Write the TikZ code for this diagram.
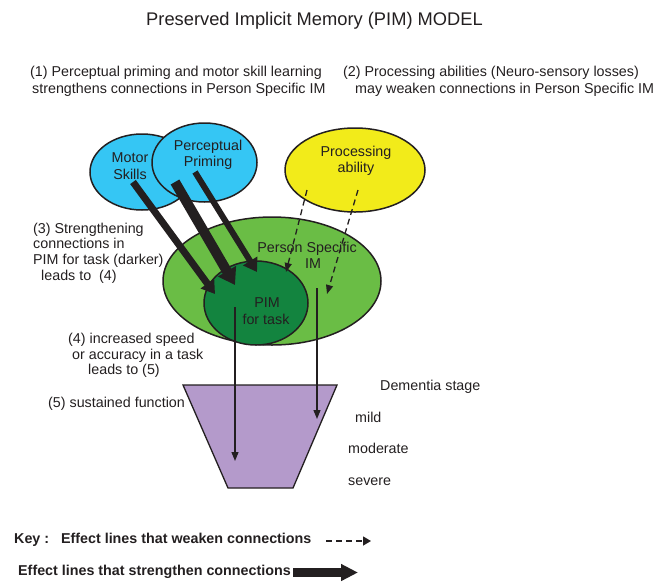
\documentclass[tikz,border=0pt]{standalone}
\usepackage{fontspec}
\setmainfont{Liberation Sans}
\usetikzlibrary{shapes.geometric,arrows.meta}
\definecolor{txt}{HTML}{231F20}
\definecolor{cyanfill}{HTML}{35C6F4}
\definecolor{yelfill}{HTML}{F2EB1A}
\definecolor{lgreen}{HTML}{6ABD45}
\definecolor{dgreen}{HTML}{13843F}
\definecolor{purp}{HTML}{B49ACB}
\tikzset{
  x=1pt,y=-1pt,
  blob/.style={ellipse,draw=txt,line width=1.5pt,inner sep=0pt},
  lbl/.style={text=txt,font=\fontsize{14.3}{16.5}\selectfont,inner sep=0pt},
  lw/.style={lbl,anchor=mid west,yshift=-2pt},
  keylbl/.style={text=txt,font=\fontsize{14.3}{16.5}\selectfont\bfseries,inner sep=0pt,anchor=mid west,yshift=-1.5pt},
  lblc/.style={lbl,align=center},
  thin arrow/.style={draw=txt,line width=1.3pt,-{Triangle[length=9pt,width=7pt]}},
  weak arrow/.style={draw=txt,line width=1.3pt,dash pattern=on 6pt off 4pt,-{Triangle[length=9pt,width=7pt]}},
  strong arrow/.style={draw=txt,line width=7pt,-{Triangle[length=13pt,width=16pt]}},
}
\begin{document}
\begin{tikzpicture}
\useasboundingbox (0,0) rectangle (660,582);
% title
\node[lbl,font=\fontsize{18.3}{22}\selectfont] (title) at (314.5,21) {Preserved Implicit Memory (PIM) MODEL};
% header texts
\node[lw] (t1a) at (30,72) {(1) Perceptual priming and motor skill learning};
\node[lw] (t1b) at (32,89) {strengthens connections in Person Specific IM};
\node[lw] (t2a) at (343,72) {(2) Processing abilities (Neuro-sensory losses)};
\node[lw] (t2b) at (355,89) {may weaken connections in Person Specific IM};
% ellipses
\node[blob,fill=cyanfill,minimum width=104pt,minimum height=76pt] (motor) at (142,172) {};
\node[blob,fill=cyanfill,minimum width=105pt,minimum height=79pt] (percep) at (204.5,162.5) {};
\node[blob,fill=yelfill,minimum width=140pt,minimum height=84pt] (proc) at (355,170) {};
\node[blob,fill=lgreen,minimum width=218pt,minimum height=128pt] (psim) at (272,281) {};
\node[blob,fill=dgreen,minimum width=104pt,minimum height=84pt] (pim) at (256,303) {};
% trapezoid
\coordinate (tz1) at (183,385);
\coordinate (tz2) at (337,385);
\coordinate (tz3) at (293,488);
\coordinate (tz4) at (228,488);
\draw[fill=purp,draw=txt,line width=1.3pt,line join=miter] (tz1) -- (tz2) -- (tz3) -- (tz4) -- cycle;
% ellipse labels
\node[lblc] (motorT) at (130,166) {Motor\\Skills};
\node[lblc] (percepT) at (208,155) {Perceptual\\Priming};
\node[lblc] (procT) at (356,161) {Processing\\ ability};
\node[lbl] (psimT1) at (307,249) {Person Specific};
\node[lbl] (psimT2) at (313,264) {IM};
\node[lbl] (pimT1) at (267,303) {PIM};
\node[lbl] (pimT2) at (266,319) {for task};
% strong arrows
\coordinate (s1a) at (133,182); \coordinate (s1b) at (215,294);
\coordinate (s2a) at (175,182); \coordinate (s2b) at (235,285);
\coordinate (s3a) at (195,172); \coordinate (s3b) at (257,272);
\draw[strong arrow] (s1a) -- (s1b);
\draw[strong arrow,line width=10pt,-{Triangle[length=16pt,width=20pt]}] (s2a) -- (s2b);
\draw[strong arrow,line width=6pt] (s3a) -- (s3b);
% weak arrows
\coordinate (w1a) at (307,190); \coordinate (w1b) at (286,272);
\coordinate (w2a) at (358,190); \coordinate (w2b) at (327,294);
\draw[weak arrow] (w1a) -- (w1b);
\draw[weak arrow] (w2a) -- (w2b);
% vertical arrows
\coordinate (v1a) at (235,307); \coordinate (v1b) at (235,461);
\coordinate (v2a) at (317,288); \coordinate (v2b) at (317,419);
\draw[thin arrow] (v1a) -- (v1b);
\draw[thin arrow] (v2a) -- (v2b);
% left texts
\node[lw] (t3a) at (33,229) {(3) Strengthening};
\node[lw] (t3b) at (33,244) {connections in};
\node[lw] (t3c) at (33,260) {PIM for task (darker)};
\node[lw] (t3d) at (41,276) {leads to\ \ (4)};
\node[lw] (t4a) at (68,339) {(4) increased speed};
\node[lw] (t4b) at (72,355) {or accuracy in a task};
\node[lw] (t4c) at (88,370) {leads to (5)};
\node[lw] (t5) at (48,403) {(5) sustained function};
% dementia texts
\node[lw] (dst) at (380,386) {Dementia stage};
\node[lw] (dmild) at (355,418) {mild};
\node[lw] (dmod) at (348,449) {moderate};
\node[lw] (dsev) at (348,481) {severe};
% key
\node[keylbl] (key1) at (14,539) {Key :\ \ \ Effect lines that weaken connections};
\node[keylbl] (key2) at (18,571) {Effect lines that strengthen connections};
\coordinate (k1a) at (326,541); \coordinate (k1b) at (371,541);
\coordinate (k2a) at (293,572.5); \coordinate (k2b) at (358,572.5);
\draw[weak arrow,line width=1.4pt,dash pattern=on 6pt off 4pt,-{Triangle[length=8pt,width=9pt]}] (k1a) -- (k1b);
\draw[draw=txt,line width=9pt,-{Triangle[length=17pt,width=16pt]}] (k2a) -- (k2b);
\end{tikzpicture}
\end{document}
